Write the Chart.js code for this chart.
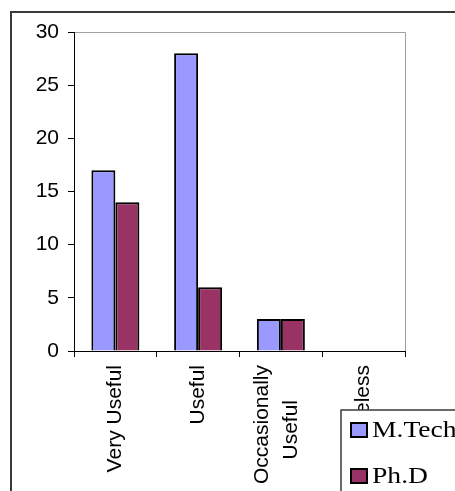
<!DOCTYPE html>
<html>
<head>
<meta charset="utf-8">
<script src="https://cdn.jsdelivr.net/npm/chart.js@4.4.1/dist/chart.umd.min.js"></script>
<style>
  html, body { margin: 0; padding: 0; background: #fff; overflow: hidden; }
  #wrap { position: relative; width: 455px; height: 491px; }
</style>
</head>
<body>
<div id="wrap"><canvas id="c" width="455" height="491"></canvas></div>
<script>
const categories = ['Very Useful', 'Useful', ['Occasionally', 'Useful\u00a0\u00a0\u00a0\u00a0\u00a0\u00a0'], 'Useless'];
const mtechValues = [17, 28, 3, 0];
const phdValues = [14, 6, 3, 0];
const yTicks = [0, 5, 10, 15, 20, 25, 30];

const frame = {
  id: 'frame',
  beforeDraw(chart) {
    const ctx = chart.ctx;
    ctx.save();
    ctx.fillStyle = '#fff';
    ctx.fillRect(0, 0, chart.width, chart.height);
    ctx.strokeStyle = '#3a3a3a';
    ctx.lineWidth = 2;
    ctx.strokeRect(11, 12, 520, 520);
    const a = chart.chartArea;
    ctx.strokeStyle = '#a0a0a0';
    ctx.lineWidth = 1;
    ctx.beginPath();
    ctx.moveTo(a.left, a.top + 0.5);
    ctx.lineTo(a.right + 0.5, a.top + 0.5);
    ctx.lineTo(a.right + 0.5, a.bottom);
    ctx.stroke();
    ctx.restore();
  }
};

const legendBox = {
  id: 'legendBox',
  afterDraw(chart) {
    const ctx = chart.ctx;
    ctx.save();
    ctx.fillStyle = '#fff';
    ctx.fillRect(341, 410, 200, 200);
    ctx.strokeStyle = '#3a3a3a';
    ctx.lineWidth = 1.5;
    ctx.strokeRect(341, 410, 200, 200);
    const rows = [437, 483];
    chart.data.datasets.forEach((ds, i) => {
      const base = rows[i];
      ctx.fillStyle = ds.backgroundColor;
      ctx.fillRect(351, base - 14, 16, 14);
      ctx.strokeStyle = '#000';
      ctx.lineWidth = 2;
      ctx.strokeRect(351, base - 14, 16, 14);
      ctx.fillStyle = '#000';
      ctx.font = '24px "Liberation Serif", "Times New Roman", serif';
      ctx.textBaseline = 'alphabetic';
      ctx.textAlign = 'left';
      ctx.save();
      ctx.translate(372, base);
      ctx.scale(1.15, 1);
      ctx.fillText(ds.label, 0, 0);
      ctx.restore();
    });
    ctx.restore();
  }
};

new Chart(document.getElementById('c'), {
  type: 'bar',
  data: {
    labels: categories,
    datasets: [
      { label: 'M.Tech', data: mtechValues, backgroundColor: '#9999FF', borderColor: '#000', borderWidth: 2 },
      { label: 'Ph.D', data: phdValues, backgroundColor: '#993366', borderColor: '#000', borderWidth: 2 }
    ]
  },
  options: {
    responsive: false,
    animation: false,
    devicePixelRatio: 1,
    layout: { padding: { top: 32, right: 50, left: 0, bottom: 0 } },
    datasets: { bar: { categoryPercentage: 0.58, barPercentage: 1.0 } },
    plugins: { legend: { display: false }, tooltip: { enabled: false } },
    scales: {
      x: {
        offset: true,
        grid: { offset: true, drawOnChartArea: false, drawTicks: true, tickLength: 6, color: '#000', lineWidth: 1 },
        border: { color: '#000', width: 1 },
        ticks: {
          minRotation: 90, maxRotation: 90, autoSkip: false, padding: 8,
          color: '#000',
          font: { family: '"Liberation Sans", Arial, sans-serif', size: 21, lineHeight: 1.4 }
        },
        afterFit(scale) {
          scale.height = 140;
          if (!scale._patchedLabels) {
            scale._patchedLabels = true;
            const orig = scale._computeLabelItems;
            scale._computeLabelItems = function (ca) {
              const items = orig.call(this, ca);
              items.forEach(it => {
                if (Array.isArray(it.label) && it.label.length > 1) {
                  it.options.translation[0] -= 19;
                }
              });
              return items;
            };
          }
        }
      },
      y: {
        min: 0, max: 30,
        afterBuildTicks(scale) { scale.ticks = yTicks.map(v => ({ value: v })); },
        grid: { drawOnChartArea: false, drawTicks: true, tickLength: 6, color: '#000', lineWidth: 1 },
        border: { color: '#000', width: 1 },
        ticks: {
          padding: 9, color: '#000',
          font: { family: '"Liberation Sans", Arial, sans-serif', size: 21 }
        },
        afterFit(scale) { scale.width = 74; }
      }
    }
  },
  plugins: [frame, legendBox]
});
</script>
</body>
</html>
